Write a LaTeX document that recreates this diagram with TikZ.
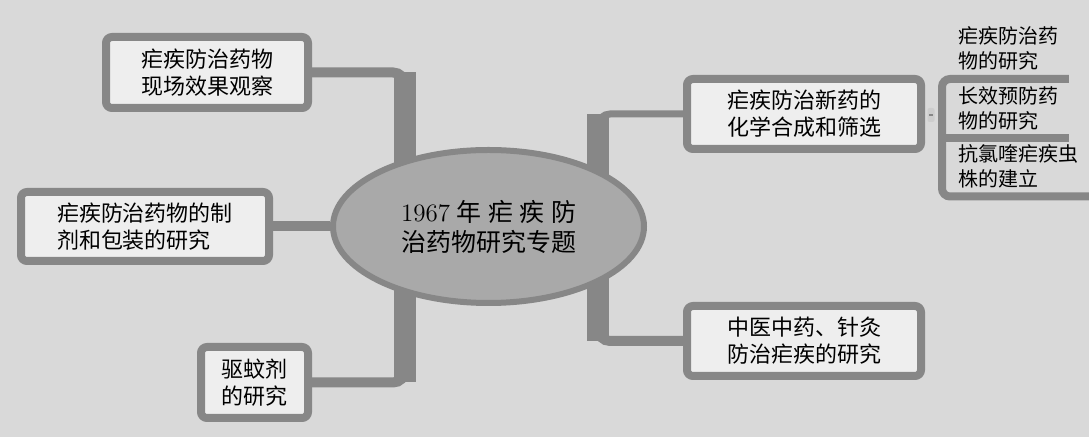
\documentclass[tikz,border=0pt]{standalone}
\usepackage{fontspec}
\newfontfamily\cjk{Noto Sans CJK SC}
\usetikzlibrary{shapes.geometric}
\pgfdeclarelayer{bg}
\pgfdeclarelayer{links}
\pgfsetlayers{bg,links,main}
\definecolor{paper}{HTML}{D9D9D9}
\definecolor{rim}{HTML}{878787}
\definecolor{card}{HTML}{EEEEEE}
\definecolor{hub}{HTML}{A9A9A9}
\definecolor{knob}{HTML}{CDCDCD}
\tikzset{
  topic/.style={draw=rim, fill=card, line width=4pt, rounded corners=3pt, align=left, inner sep=0pt, font=\cjk\fontsize{11}{13.5}\selectfont},
  link/.style={draw=rim, line width=5pt, rounded corners=6pt},
  trunk/.style={draw=rim, line width=11pt},
  leaf/.style={anchor=south west, inner xsep=5pt, inner ysep=4pt, align=left, font=\cjk\fontsize{10}{12.5}\selectfont},
  bar/.style={draw=rim, line width=4pt, rounded corners=4pt},
  fold/.style={fill=knob, minimum width=3.5pt, minimum height=7pt, inner sep=0pt, rounded corners=1pt}
}
\begin{document}
\begin{tikzpicture}[x=0.5pt,y=-0.5pt]
\useasboundingbox (0,0) rectangle (1089,437);
\begin{pgfonlayer}{bg}
\fill[paper] (0,0) rectangle (1089,437);
\end{pgfonlayer}

\node[ellipse, draw=rim, fill=hub, line width=3pt, minimum width=155.5pt, minimum height=76.5pt, inner sep=0pt, align=center, font=\fontsize{12.5}{15}\selectfont] (centre) at (488.5,226.5) {\makebox[7em][s]{1967\hfill{\cjk 年}\hfill{\cjk 疟}\hfill{\cjk 疾}\hfill{\cjk 防}}\\{\cjk 治药物研究专题}};

\node[topic, minimum width=101pt, minimum height=35.5pt] (A) at (207,72.5) {疟疾防治药物\\现场效果观察};
\node[topic, minimum width=124pt, minimum height=34.5pt] (B) at (145,226.5) {疟疾防治药物的制\\剂和包装的研究};
\node[topic, minimum width=53.5pt, minimum height=35.5pt] (C) at (254.5,382.5) {驱蚊剂\\的研究};
\node[topic, minimum width=117pt, minimum height=35pt] (D) at (804,114) {疟疾防治新药的\\化学合成和筛选};
\node[topic, minimum width=117pt, minimum height=35pt] (E) at (804,341) {中医中药、针灸\\防治疟疾的研究};

\node[leaf] (s1) at (948,79) {疟疾防治药\\物的研究};
\node[leaf] (s2) at (948,138.5) {长效预防药\\物的研究};
\node[leaf] (s3) at (948,196.5) {抗氯喹疟疾虫\\株的建立};
\node[fold] (tog) at (931,115) {};
\draw[rim, line width=0.6pt] ([xshift=-1pt]tog.center) -- ([xshift=1pt]tog.center);

\coordinate (hubL) at (405,226);
\coordinate (hubR) at (598,226);
\coordinate (kR) at (942,138);

\begin{pgfonlayer}{links}
\draw[link] (A.east) -| (hubL);
\draw[trunk] (A.east -| hubL) -- (hubL);
\draw[link] (C.east) -| (hubL);
\draw[trunk] (C.east -| hubL) -- (hubL);
\draw[link] (B.east) -- (centre);
\draw[link, line width=3.5pt] (D.west) -| (hubR);
\draw[trunk] (D.west -| hubR) -- (hubR);
\draw[link] (E.west) -| (hubR);
\draw[trunk] (E.west -| hubR) -- (hubR);
\end{pgfonlayer}

\draw[bar] (s1.south east) -- (s1.south -| kR) -- (s3.south -| kR) -- (s3.south east);
\draw[bar] (s2.south -| kR) -- (s2.south east);
\end{tikzpicture}
\end{document}
